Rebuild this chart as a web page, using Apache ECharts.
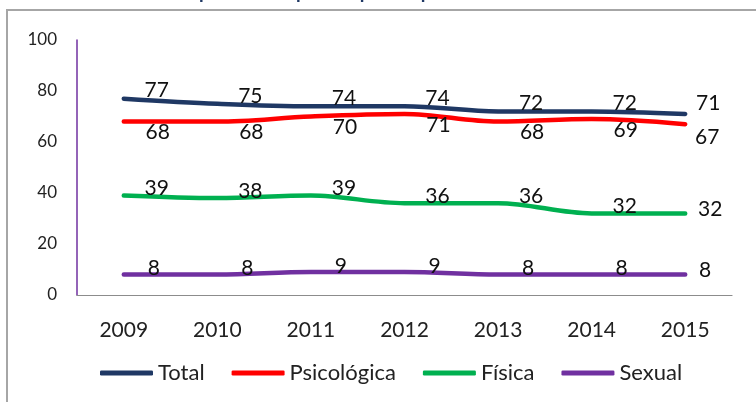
<!DOCTYPE html>
<html>
<head>
<meta charset="utf-8">
<script src="https://cdn.jsdelivr.net/npm/echarts@6/dist/echarts.min.js"></script>
<style>html,body{margin:0;padding:0;background:#fff;}#c{width:756px;height:402px;}</style>
</head>
<body>
<div id="c"></div>
<script>
const years = ['2009', '2010', '2011', '2012', '2013', '2014', '2015'];
const seriesNames = ['Total', 'Psicológica', 'Física', 'Sexual'];
const total = [77, 75, 74, 74, 72, 72, 71];
const psicologica = [68, 68, 70, 71, 68, 69, 67];
const fisica = [39, 38, 39, 36, 36, 32, 32];
const sexual = [8, 8, 9, 9, 8, 8, 8];
const yMin = 0, yMax = 100, yStep = 20;
const titleText = 'esposo o compañero para el periodo 2009 - 2015';

const FONT = 'Lato';
const colors = ['#1f3864', '#ff0000', '#00b050', '#7030a0'];
const values = [total, psicologica, fisica, sexual];
const labelOffsets = [[33, -8], [34, 11], [33, -7], [30, -6]];
const lastOffsets = [[23, -11], [22, 13], [25, -4], [20, -4]];

const series = values.map((vals, s) => ({
  name: seriesNames[s],
  type: 'line',
  smooth: 0.35,
  symbol: 'circle',
  symbolSize: 2,
  showSymbol: true,
  z: 10 - s,
  itemStyle: { color: colors[s] },
  lineStyle: { color: colors[s], width: 4.5, cap: 'round', join: 'round' },
  label: {
    show: true,
    position: 'inside',
    offset: labelOffsets[s],
    color: '#111',
    fontFamily: FONT,
    fontSize: 21
  },
  emphasis: { disabled: true },
  data: vals.map((v, i) => i === vals.length - 1
    ? { value: v, label: { offset: lastOffsets[s] } }
    : v)
}));

const chart = echarts.init(document.getElementById('c'), null, { renderer: 'canvas' });
chart.setOption({
  animation: false,
  backgroundColor: '#ffffff',
  graphic: [
    { type: 'rect', shape: { x: 7, y: 10, width: 900, height: 600 },
      style: { fill: 'none', stroke: '#a6a6a6', lineWidth: 2 }, silent: true, z: -10 },
    { type: 'text', x: 388, y: 2, silent: true,
      style: { text: titleText, fill: '#1f3864', font: 'bold 19px Lato',
               align: 'center', verticalAlign: 'bottom' } }
  ],
  grid: { left: 77, right: 24, top: 40, bottom: 107 },
  legend: {
    data: seriesNames,
    left: 95,
    top: 357,
    itemWidth: 53,
    itemHeight: 5,
    itemGap: 27,
    icon: 'roundRect',
    textStyle: { fontFamily: FONT, fontSize: 22, color: '#222' },
    selectedMode: false
  },
  xAxis: {
    type: 'category',
    data: years,
    boundaryGap: true,
    axisLine: { show: true, lineStyle: { color: '#8c8c8c', width: 1.2 } },
    axisTick: { show: false },
    axisLabel: { fontFamily: FONT, fontSize: 21, color: '#222', margin: 25 },
    splitLine: { show: false }
  },
  yAxis: {
    type: 'value',
    min: yMin, max: yMax, interval: yStep,
    axisLine: { show: true, lineStyle: { color: '#7030a0', width: 1.5 } },
    axisTick: { show: false },
    axisLabel: { fontFamily: FONT, fontSize: 17, color: '#222', margin: 20 },
    splitLine: { show: false }
  },
  series: series
});
</script>
</body>
</html>
